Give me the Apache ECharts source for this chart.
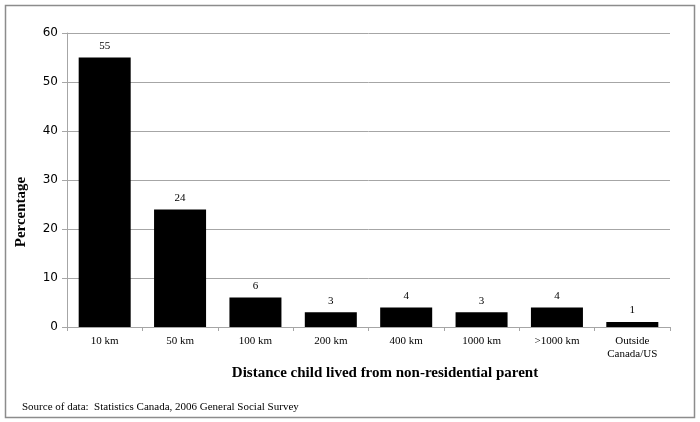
<!DOCTYPE html>
<html>
<head>
<meta charset="utf-8">
<script src="https://cdn.jsdelivr.net/npm/echarts@6/dist/echarts.min.js"></script>
<style>
  html, body { margin: 0; padding: 0; background: #fff; }
  #chart { width: 700px; height: 422px; }
</style>
</head>
<body>
<div id="chart"></div>
<script>
// distance categories and share of children (%)
const categories = ['10 km', '50 km', '100 km', '200 km', '400 km', '1000 km', '>1000 km', 'Outside\nCanada/US']
const percentages = [55, 24, 6, 3, 4, 3, 4, 1]
const yTicks = { min: 0, max: 60, interval: 10 }

const serif = '"Liberation Serif", "DejaVu Serif", serif'
const gray = '#a6a6a6'

const chart = echarts.init(document.getElementById('chart'))
chart.setOption({
  animation: false,
  backgroundColor: '#fff',
  graphic: [
    {
      type: 'rect',
      shape: { x: 5.5, y: 5.5, width: 689, height: 412 },
      style: { fill: 'none', stroke: '#8c8c8c', lineWidth: 1.5 }
    },
    {
      type: 'text',
      x: 385,
      y: 373,
      style: {
        text: 'Distance child lived from non-residential parent',
        font: 'bold 15px ' + serif,
        fill: '#000',
        align: 'center',
        verticalAlign: 'middle'
      }
    },
    {
      type: 'text',
      x: 21,
      y: 212,
      rotation: Math.PI / 2,
      style: {
        text: 'Percentage',
        font: 'bold 15px ' + serif,
        fill: '#000',
        align: 'center',
        verticalAlign: 'middle'
      }
    },
    {
      type: 'text',
      left: 22,
      top: 402,
      style: {
        text: 'Source of data:  Statistics Canada, 2006 General Social Survey',
        font: '11px ' + serif,
        fill: '#000'
      }
    }
  ],
  grid: { left: 67, right: 30, top: 33, bottom: 95 },
  xAxis: {
    type: 'category',
    data: categories,
    axisLine: { lineStyle: { color: gray } },
    axisTick: { show: true, alignWithLabel: false, length: 4, lineStyle: { color: gray } },
    axisLabel: { color: '#000', fontFamily: serif, fontSize: 11, margin: 8, interval: 0, lineHeight: 13 }
  },
  yAxis: {
    type: 'value',
    min: yTicks.min,
    max: yTicks.max,
    interval: yTicks.interval,
    axisLine: { show: true, lineStyle: { color: gray } },
    axisTick: { show: true, length: 5, lineStyle: { color: gray } },
    splitLine: { lineStyle: { color: gray } },
    axisLabel: { color: '#000', fontFamily: 'Tahoma, "DejaVu Sans", sans-serif', fontSize: 12, margin: 9 }
  },
  series: [{
    type: 'bar',
    data: percentages,
    barWidth: '69%',
    itemStyle: { color: '#000' },
    label: {
      show: true,
      position: 'top',
      distance: 6,
      color: '#000',
      fontFamily: serif,
      fontSize: 11
    }
  }]
})
</script>
</body>
</html>
